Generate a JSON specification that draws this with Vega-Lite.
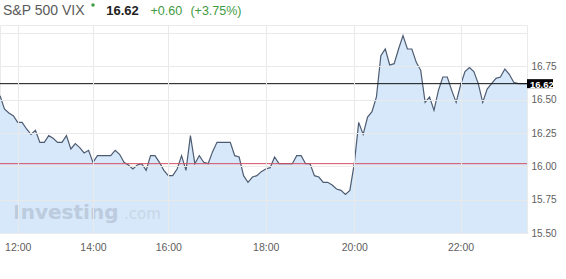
{
  "$schema": "https://vega.github.io/schema/vega-lite/v6.json",
  "width": 527,
  "height": 208,
  "autosize": {"type": "none"},
  "padding": {"left": 0, "top": 25, "right": 39, "bottom": 46},
  "background": "white",
  "data": {"values": [
    {"t": "11:36", "v": 16.53}, {"t": "11:42", "v": 16.43}, {"t": "11:48", "v": 16.40}, {"t": "11:54", "v": 16.38},
    {"t": "12:00", "v": 16.33}, {"t": "12:07", "v": 16.33}, {"t": "12:14", "v": 16.28}, {"t": "12:21", "v": 16.24},
    {"t": "12:28", "v": 16.27}, {"t": "12:35", "v": 16.18}, {"t": "12:42", "v": 16.18}, {"t": "12:49", "v": 16.23},
    {"t": "12:56", "v": 16.21}, {"t": "13:03", "v": 16.18}, {"t": "13:10", "v": 16.18}, {"t": "13:17", "v": 16.23},
    {"t": "13:24", "v": 16.13}, {"t": "13:31", "v": 16.17}, {"t": "13:38", "v": 16.14}, {"t": "13:45", "v": 16.10},
    {"t": "13:52", "v": 16.12}, {"t": "14:00", "v": 16.03}, {"t": "14:07", "v": 16.08}, {"t": "14:14", "v": 16.08},
    {"t": "14:21", "v": 16.08}, {"t": "14:28", "v": 16.08}, {"t": "14:35", "v": 16.12}, {"t": "14:42", "v": 16.09},
    {"t": "14:49", "v": 16.03}, {"t": "14:56", "v": 16.01}, {"t": "15:03", "v": 15.98}, {"t": "15:10", "v": 16.01},
    {"t": "15:17", "v": 16.02}, {"t": "15:24", "v": 15.97}, {"t": "15:31", "v": 16.08}, {"t": "15:38", "v": 16.08},
    {"t": "15:45", "v": 16.03}, {"t": "15:52", "v": 15.97}, {"t": "16:00", "v": 15.93}, {"t": "16:05", "v": 15.93},
    {"t": "16:11", "v": 15.98}, {"t": "16:16", "v": 16.08}, {"t": "16:22", "v": 15.97}, {"t": "16:27", "v": 16.23},
    {"t": "16:33", "v": 16.02}, {"t": "16:38", "v": 16.08}, {"t": "16:44", "v": 16.03}, {"t": "16:49", "v": 16.02},
    {"t": "16:55", "v": 16.11}, {"t": "17:00", "v": 16.18}, {"t": "17:05", "v": 16.18}, {"t": "17:11", "v": 16.18},
    {"t": "17:16", "v": 16.18}, {"t": "17:22", "v": 16.08}, {"t": "17:27", "v": 16.07}, {"t": "17:33", "v": 15.93},
    {"t": "17:38", "v": 15.88}, {"t": "17:44", "v": 15.92}, {"t": "17:49", "v": 15.93}, {"t": "17:55", "v": 15.96},
    {"t": "18:00", "v": 15.98}, {"t": "18:06", "v": 15.99}, {"t": "18:12", "v": 16.07}, {"t": "18:18", "v": 16.02},
    {"t": "18:24", "v": 16.02}, {"t": "18:30", "v": 16.02}, {"t": "18:36", "v": 16.02}, {"t": "18:42", "v": 16.08},
    {"t": "18:48", "v": 16.08}, {"t": "18:54", "v": 16.02}, {"t": "19:00", "v": 16.02}, {"t": "19:06", "v": 15.93},
    {"t": "19:12", "v": 15.92}, {"t": "19:18", "v": 15.88}, {"t": "19:24", "v": 15.88}, {"t": "19:30", "v": 15.86},
    {"t": "19:36", "v": 15.83}, {"t": "19:42", "v": 15.82}, {"t": "19:48", "v": 15.79}, {"t": "19:54", "v": 15.82},
    {"t": "20:00", "v": 16.02}, {"t": "20:05", "v": 16.33}, {"t": "20:10", "v": 16.24}, {"t": "20:15", "v": 16.37},
    {"t": "20:20", "v": 16.41}, {"t": "20:25", "v": 16.52}, {"t": "20:30", "v": 16.83}, {"t": "20:35", "v": 16.88},
    {"t": "20:40", "v": 16.76}, {"t": "20:45", "v": 16.77}, {"t": "20:50", "v": 16.88}, {"t": "20:55", "v": 16.98},
    {"t": "21:00", "v": 16.88}, {"t": "21:05", "v": 16.88}, {"t": "21:10", "v": 16.78}, {"t": "21:15", "v": 16.72},
    {"t": "21:20", "v": 16.48}, {"t": "21:25", "v": 16.52}, {"t": "21:30", "v": 16.42}, {"t": "21:35", "v": 16.57},
    {"t": "21:40", "v": 16.67}, {"t": "21:45", "v": 16.67}, {"t": "21:50", "v": 16.57}, {"t": "21:55", "v": 16.48},
    {"t": "22:00", "v": 16.61}, {"t": "22:05", "v": 16.71}, {"t": "22:10", "v": 16.74}, {"t": "22:15", "v": 16.71},
    {"t": "22:20", "v": 16.62}, {"t": "22:25", "v": 16.48}, {"t": "22:30", "v": 16.58}, {"t": "22:35", "v": 16.62},
    {"t": "22:40", "v": 16.66}, {"t": "22:45", "v": 16.67}, {"t": "22:50", "v": 16.73}, {"t": "22:55", "v": 16.69},
    {"t": "23:00", "v": 16.63}, {"t": "23:05", "v": 16.62}, {"t": "23:10", "v": 16.62}, {"t": "23:15", "v": 16.62}
  ]},
  "layer": [
    {
      "mark": {"type": "area", "color": "#d6e8fa", "opacity": 1},
      "encoding": {
        "x": {"field": "t", "type": "ordinal", "sort": null, "scale": {"type": "point", "padding": 0},
          "axis": {"values": ["12:00", "14:00", "16:00", "18:00", "20:00", "22:00"], "title": null, "ticks": false, "domain": false, "labelAngle": 0, "labelPadding": 9, "labelColor": "#606060", "labelFont": "Liberation Sans", "labelFontSize": 10.5, "grid": true, "gridColor": "#e9e9e9", "zindex": 1}},
        "y": {"field": "v", "type": "quantitative", "scale": {"domain": [15.5, 17.06], "nice": false, "zero": false},
          "axis": {"orient": "right", "values": [15.5, 15.75, 16, 16.25, 16.5, 16.75, 17], "tickCount": 20, "format": ".2f", "labelExpr": "datum.value > 16.9 ? '' : datum.label", "labelOverlap": false, "title": null, "ticks": false, "domain": false, "labelPadding": 4, "labelBaseline": "middle", "labelColor": "#606060", "labelFont": "Liberation Sans", "labelFontSize": 10, "grid": true, "gridColor": "#e9e9e9", "zindex": 1}},
        "y2": {"datum": 15.5}
      }
    },
    {
      "mark": {"type": "line", "color": "#4e5c72", "strokeWidth": 1.2},
      "encoding": {
        "x": {"field": "t", "type": "ordinal", "sort": null},
        "y": {"field": "v", "type": "quantitative"}
      }
    },
    {
      "data": {"values": [{"series": "Previous close", "v": 16.02}, {"series": "Last", "v": 16.62}]},
      "mark": {"type": "rule", "strokeWidth": 1},
      "encoding": {
        "y": {"field": "v", "type": "quantitative"},
        "color": {"field": "series", "type": "nominal", "scale": {"domain": ["Previous close", "Last"], "range": ["#d4505f", "#111111"]}, "legend": null}
      }
    },
    {
      "data": {"values": [{}]},
      "mark": {"type": "point", "shape": "M0,-0.45H2.6V0.45H0Z", "size": 400, "filled": true, "color": "#000000", "opacity": 1, "strokeWidth": 0},
      "encoding": {"x": {"datum": "23:15", "type": "ordinal"}, "y": {"datum": 16.62}}
    },
    {
      "data": {"values": [{}]},
      "mark": {"type": "text", "text": "16.62", "color": "#ffffff", "font": "Liberation Sans", "fontWeight": "bold", "fontSize": 9.5, "align": "left", "baseline": "middle", "dx": 3, "dy": 1},
      "encoding": {"x": {"datum": "23:15", "type": "ordinal"}, "y": {"datum": 16.62}}
    },
    {
      "data": {"values": [{}]},
      "mark": {"type": "text", "text": "S&P 500 VIX", "color": "#5a5a5a", "font": "Liberation Sans", "fontSize": 14, "align": "left", "baseline": "alphabetic", "dx": 3},
      "encoding": {"x": {"datum": "11:36", "type": "ordinal"}, "y": {"datum": 17.135}}
    },
    {
      "data": {"values": [{}]},
      "mark": {"type": "point", "shape": "circle", "size": 12, "filled": true, "color": "#3f9b3f", "opacity": 1},
      "encoding": {"x": {"datum": "14:00", "type": "ordinal"}, "y": {"datum": 17.21}}
    },
    {
      "data": {"values": [{}]},
      "mark": {"type": "text", "text": "16.62", "color": "#222222", "font": "Liberation Sans", "fontWeight": "bold", "fontSize": 13, "align": "left", "baseline": "alphabetic"},
      "encoding": {"x": {"datum": "14:21", "type": "ordinal"}, "y": {"datum": 17.135}}
    },
    {
      "data": {"values": [{}]},
      "mark": {"type": "text", "text": "+0.60", "color": "#3f9b3f", "font": "Liberation Sans", "fontSize": 12.5, "align": "left", "baseline": "alphabetic"},
      "encoding": {"x": {"datum": "15:31", "type": "ordinal"}, "y": {"datum": 17.135}}
    },
    {
      "data": {"values": [{}]},
      "mark": {"type": "text", "text": "(+3.75%)", "color": "#3f9b3f", "font": "Liberation Sans", "fontSize": 12.5, "align": "left", "baseline": "alphabetic"},
      "encoding": {"x": {"datum": "16:27", "type": "ordinal"}, "y": {"datum": 17.135}}
    },
    {
      "data": {"values": [{}]},
      "mark": {"type": "text", "text": "Investing", "color": "#bccbdd", "font": "DejaVu Sans", "fontWeight": "bold", "fontSize": 20, "align": "left", "baseline": "alphabetic"},
      "encoding": {"x": {"datum": "11:54", "type": "ordinal"}, "y": {"datum": 15.603}}
    },
    {
      "data": {"values": [{}]},
      "mark": {"type": "text", "text": ".com", "color": "#c9d6e6", "font": "DejaVu Sans", "fontSize": 15, "align": "left", "baseline": "alphabetic"},
      "encoding": {"x": {"datum": "14:49", "type": "ordinal"}, "y": {"datum": 15.603}}
    }
  ],
  "config": {
    "view": {"stroke": "#eaeaea"},
    "font": "Liberation Sans",
    "axisY": {"labelOverlap": false}
  }
}
